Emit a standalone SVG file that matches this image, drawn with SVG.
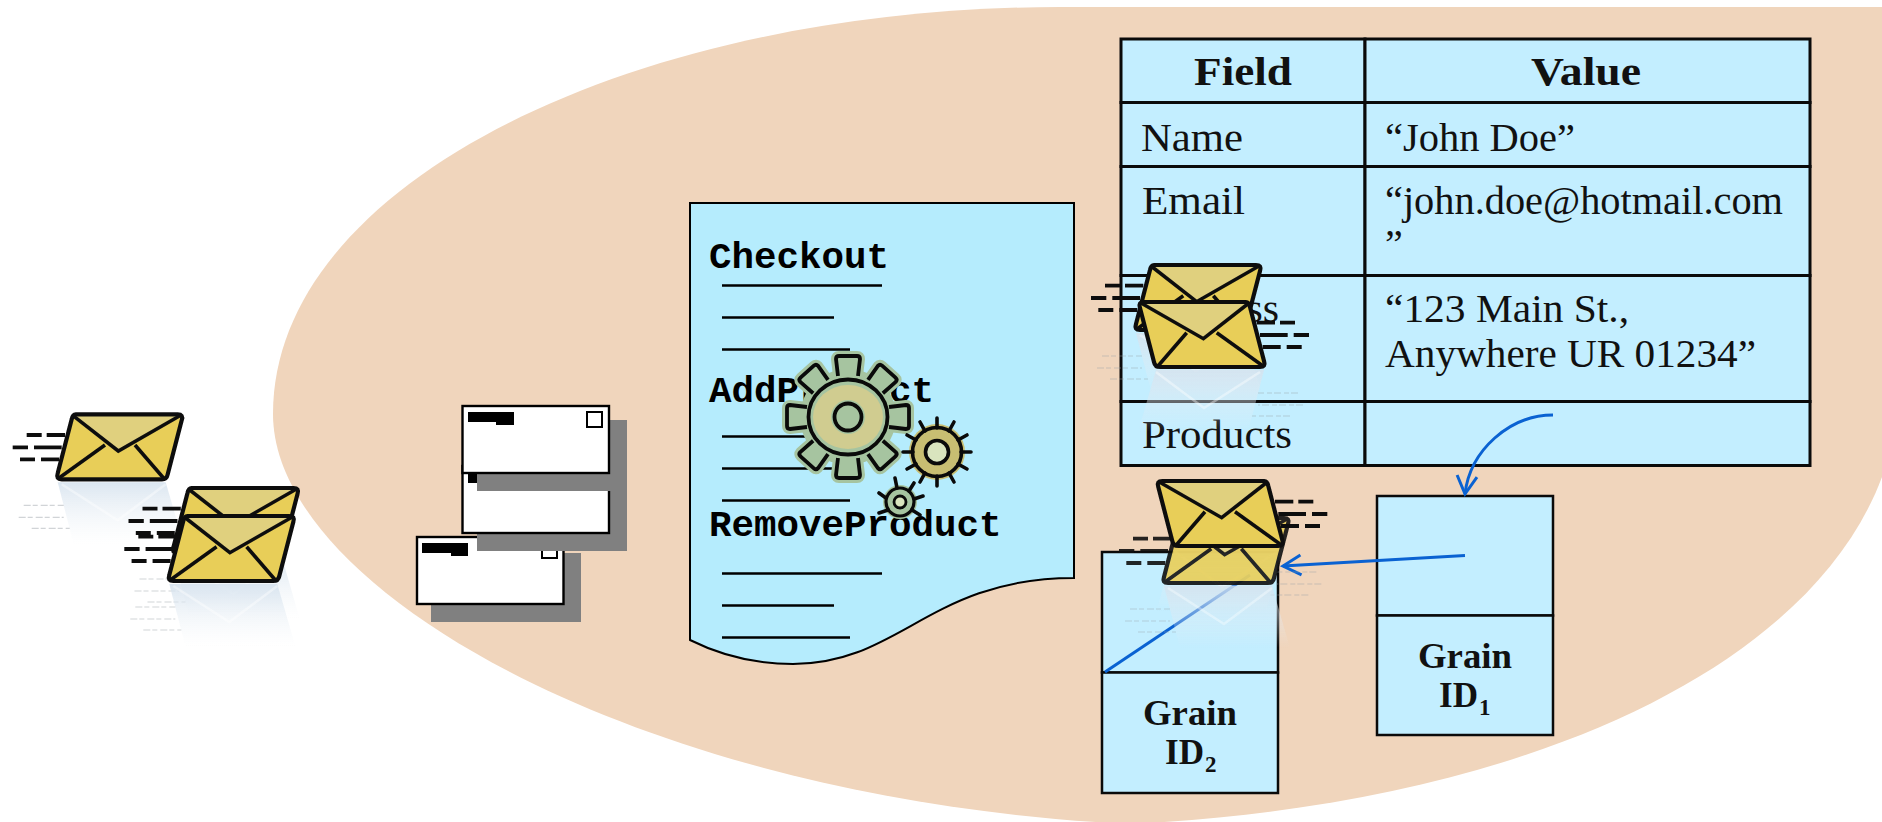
<svg xmlns="http://www.w3.org/2000/svg" width="1882" height="822" viewBox="0 0 1882 822">
<style>
.serif{font-family:"Liberation Serif","DejaVu Serif",serif;font-size:40px;fill:#111}
.g{font-size:36px}
.sub{font-size:23px}
.b{font-weight:bold}
.mono{font-family:"Liberation Mono","Courier New",monospace;font-weight:bold;font-size:37.500px;fill:#000}
.cell{fill:#C3EEFF;stroke:#0a0a0a;stroke-width:3}
.gbox{fill:#C3EEFF;stroke:#0a0a0a;stroke-width:2.5}
.ln{stroke:#000;stroke-width:2.6;fill:none}
.card{fill:#fff;stroke:#000;stroke-width:2.4}
.sh{fill:#808080}
.bar{fill:#000}
.wire{stroke:#0A62D2;stroke-width:3;fill:none}
.gs{stroke:#0a0a0a;stroke-width:3.600;stroke-linecap:round;stroke-linejoin:round;fill:none}
</style>
<defs>
<filter id="soft" x="-5%" y="-5%" width="110%" height="110%"><feGaussianBlur stdDeviation="0.5"/></filter>
<linearGradient id="fade" x1="0" y1="0" x2="0" y2="1">
<stop offset="0" stop-color="#D5E2EE" stop-opacity=".85"/>
<stop offset="1" stop-color="#EEF3F7" stop-opacity="0"/>
</linearGradient>
<marker id="open" markerUnits="userSpaceOnUse" markerWidth="24" markerHeight="26" refX="20" refY="12" orient="auto">
<path d="M2,2 L20,12 L2,22" fill="none" stroke="#0A62D2" stroke-width="3"/>
</marker>
<g id="env-refl">
<path d="M-14,68 H94 L112,130 H2 Z" fill="url(#fade)"/>
<path d="M-10,70 L46,106 L94,70" fill="none" stroke="#fff" stroke-opacity=".4" stroke-width="2.5"/>
<g stroke="#9aa0a6" stroke-opacity=".45" stroke-width="1.2" stroke-dasharray="7 2 5 3">
<path d="M-48,91 H-8"/><path d="M-53,103 H-8"/><path d="M-40,114 H-2"/>
</g>
</g>
<g id="env">
<path d="M4,0 H106 Q112,0 110,6 L96,60 Q95,65 90,65 H-10 Q-16,65 -14,59 L0,5 Q1,0 4,0 Z" fill="#E8CE58"/>
<path d="M2,1 L46.600,36.700 L109,1 Z" fill="#E0D07E"/>
<path d="M4,0 H106 Q112,0 110,6 L96,60 Q95,65 90,65 H-10 Q-16,65 -14,59 L0,5 Q1,0 4,0 Z" fill="none" stroke="#111" stroke-width="4.200" stroke-linejoin="round"/>
<path d="M1,1 L46.600,36.700 L109,1 M-13,64 L33.300,30.700 M92,64 L63.300,30.700" fill="none" stroke="#111" stroke-width="3.600"/>
<path d="M-45,20.700 H-30 M-25,20.700 H-6.700 M-59,33 H-43.700 M-37.700,33 H-10 M-51.700,45 H-36.700 M-30.700,45 H-12.700" stroke="#111" stroke-width="3.800" fill="none"/>
</g>
<path id="tooth" d="M-10,-41 L-12,-58 Q-12,-61 -9,-61 H9 Q12,-61 12,-58 L10,-41"/>
<g id="teeth">
<use href="#tooth" transform="rotate(0)"/><use href="#tooth" transform="rotate(42)"/>
<use href="#tooth" transform="rotate(90)"/><use href="#tooth" transform="rotate(138)"/>
<use href="#tooth" transform="rotate(180)"/><use href="#tooth" transform="rotate(222)"/>
<use href="#tooth" transform="rotate(270)"/><use href="#tooth" transform="rotate(318)"/>
</g>
</defs>

<path id="region" d="M273,414 C273,180 640,7 1060,7 H1882 V477 C1810,670 1520,805 1130,824 C640,800 273,590 273,414 Z" fill="#F0D5BC"/>

<g id="mail-cards">
<g id="card-c">
<rect class="sh" x="431" y="553" width="150" height="69"/>
<rect class="card" x="417" y="537" width="146.500" height="67"/>
<path class="bar" d="M422,543 H468 V556 H451 V553 H422 Z"/>
<rect x="542" y="543" width="15" height="15" fill="#fff" stroke="#000" stroke-width="2"/>
</g>
<g id="card-b">
<rect class="sh" x="477" y="482" width="150" height="69"/>
<rect class="card" x="462.500" y="466" width="146.500" height="67"/>
<path class="bar" d="M468,473 H514 V486 H496 V483 H468 Z"/>
</g>
<g id="card-a">
<rect class="sh" x="477" y="420" width="150" height="71"/>
<rect class="card" x="462.500" y="406" width="146.500" height="67"/>
<path class="bar" d="M468,412 H514 V425 H496 V422 H468 Z"/>
<rect x="587" y="412" width="15" height="15" fill="#fff" stroke="#000" stroke-width="2"/>
</g>
</g>

<g id="document">
<path d="M690,203 H1074 V578 C930,578 900,664 793,664 C755,664 720,655 690,640 Z" fill="#B5ECFD" stroke="#000" stroke-width="2"/>
<text class="mono" x="709" y="268">Checkout</text>
<text class="mono" x="709" y="402">AddProduct</text>
<text class="mono" x="709" y="536">RemoveProduct</text>
<path class="ln" d="M722,285.500 H882 M722,317.500 H834 M722,349.500 H850 M722,436.500 H882 M722,468.500 H834 M722,500.500 H850 M722,573.500 H882 M722,605.500 H834 M722,637.500 H850"/>
</g>

<g id="table">
<rect class="cell" x="1121" y="39" width="244" height="63.500"/>
<rect class="cell" x="1365" y="39" width="445" height="63.500"/>
<rect class="cell" x="1121" y="102.500" width="244" height="64"/>
<rect class="cell" x="1365" y="102.500" width="445" height="64"/>
<rect class="cell" x="1121" y="166.500" width="244" height="109"/>
<rect class="cell" x="1365" y="166.500" width="445" height="109"/>
<rect class="cell" x="1121" y="275.500" width="244" height="126"/>
<rect class="cell" x="1365" y="275.500" width="445" height="126"/>
<rect class="cell" x="1121" y="401.500" width="244" height="64"/>
<rect class="cell" x="1365" y="401.500" width="445" height="64"/>
<text class="serif b" x="1194" y="85" textLength="98" lengthAdjust="spacingAndGlyphs">Field</text>
<text class="serif b" x="1531" y="85" textLength="110" lengthAdjust="spacingAndGlyphs">Value</text>
<text class="serif" x="1141" y="151" textLength="102" lengthAdjust="spacingAndGlyphs">Name</text>
<text class="serif" x="1385" y="151" textLength="190" lengthAdjust="spacingAndGlyphs">“John Doe”</text>
<text class="serif" x="1142" y="214" textLength="103" lengthAdjust="spacingAndGlyphs">Email</text>
<text class="serif" x="1385" y="214" textLength="398" lengthAdjust="spacingAndGlyphs">“john.doe@hotmail.com</text>
<text class="serif" x="1385" y="257">”</text>
<text class="serif" x="1142" y="322" textLength="137" lengthAdjust="spacingAndGlyphs">Address</text>
<text class="serif" x="1385" y="322" textLength="244" lengthAdjust="spacingAndGlyphs">“123 Main St.,</text>
<text class="serif" x="1385" y="367" textLength="371" lengthAdjust="spacingAndGlyphs">Anywhere UR 01234”</text>
<text class="serif" x="1142" y="448" textLength="150" lengthAdjust="spacingAndGlyphs">Products</text>
</g>

<g id="grain-1">
<rect class="gbox" x="1377" y="496" width="176" height="119.500"/>
<rect class="gbox" x="1377" y="615.500" width="176" height="119.500"/>
<text class="serif g b" x="1418" y="668" textLength="94" lengthAdjust="spacingAndGlyphs">Grain</text>
<text class="serif g b" x="1439" y="707" textLength="39" lengthAdjust="spacingAndGlyphs">ID</text>
<text class="serif sub b" x="1479" y="715">1</text>
</g>
<g id="grain-2">
<rect class="gbox" x="1102" y="552" width="176" height="120.500"/>
<rect class="gbox" x="1102" y="672.500" width="176" height="120.500"/>
<text class="serif g b" x="1143" y="725" textLength="94" lengthAdjust="spacingAndGlyphs">Grain</text>
<text class="serif g b" x="1165" y="764" textLength="39" lengthAdjust="spacingAndGlyphs">ID</text>
<text class="serif sub b" x="1205" y="772">2</text>
</g>

<g id="connectors">
<path class="wire" d="M1553,415 C1510,415 1470,450 1465,494" marker-end="url(#open)"/>
<path class="wire" d="M1465,555.500 L1283,566" marker-end="url(#open)"/>
<path class="wire" d="M1250,575 L1105,672"/>
</g>

<g id="gears">
<g id="gear-big" transform="translate(848,417)">
<use href="#teeth" fill="#A6C4A0" stroke="#A6C4A0" stroke-width="10" stroke-linejoin="round"/>
<circle r="48" fill="#A6C4A0"/>
<use href="#teeth" fill="#A6C4A0" stroke="#0a0a0a" stroke-width="3.800" stroke-linejoin="round"/>
<path d="M-11,-41 H11 L13,-36 H-13 Z M-11,41 H11 L13,36 H-13 Z" fill="#A6C4A0"/>
<ellipse rx="39.500" ry="37.500" fill="#A6C4A0" stroke="#0a0a0a" stroke-width="3.800"/>
<ellipse rx="35" ry="32" fill="#D0CC90"/>
<circle r="17" fill="#A6C4A0"/>
<circle r="13.500" fill="#A6C4A0" stroke="#0a0a0a" stroke-width="3.800"/>
</g>
<g id="gear-mid" transform="translate(937,452)">
<circle r="28" fill="#C8BE72"/>
<circle r="24.500" fill="#C8BE72" stroke="#0a0a0a" stroke-width="3.600"/>
<circle r="11.500" fill="#D9E4BE" stroke="#0a0a0a" stroke-width="3.600"/>
<path class="gs" d="M0,-24 V-34 M12,-21 L17,-30 M21,-12 L30,-17 M24,0 H34 M21,12 L30,17 M12,21 L17,30 M0,24 V34 M-12,21 L-17,30 M-21,12 L-30,17 M-24,0 H-34 M-21,-12 L-30,-17 M-12,-21 L-17,-30"/>
</g>
<g id="gear-small" transform="translate(900,502)">
<circle r="17" fill="#A6C4A0"/>
<circle r="14" fill="#A6C4A0" stroke="#0a0a0a" stroke-width="3.200"/>
<circle r="6" fill="#D9E4BE" stroke="#0a0a0a" stroke-width="2.800"/>
<path class="gs" d="M-3,-14 L-5,-24 M9,-11 L14,-19 M14,-3 L23,-6 M12,8 L20,13 M-12,8 L-21,11 M-14,-4 L-21,-9"/>
</g>
</g>

<g id="envelopes" filter="url(#soft)">
<g id="mail-1" transform="translate(71.700,414.300)"><use href="#env-refl"/><use href="#env"/></g>
<use href="#env-refl" transform="translate(187.500,488)"/>
<g id="mail-2" transform="translate(187.500,488)"><use href="#env"/></g>
<g id="mail-3" transform="translate(183.300,516)"><use href="#env-refl"/><use href="#env"/></g>
<g id="mail-4" transform="translate(1150,265)"><use href="#env-refl"/><use href="#env"/></g>
<g id="mail-5" transform="translate(1250,302) scale(-1,1)"><use href="#env-refl"/><use href="#env"/></g>
<use href="#env-refl" transform="translate(1268.300,481) scale(-1,1)"/>
<g id="mail-6" transform="translate(1178,518)" opacity=".9"><use href="#env-refl"/><use href="#env"/></g>
<g id="mail-7" transform="translate(1268.300,481) scale(-1,1)"><use href="#env"/></g>
</g>
</svg>
